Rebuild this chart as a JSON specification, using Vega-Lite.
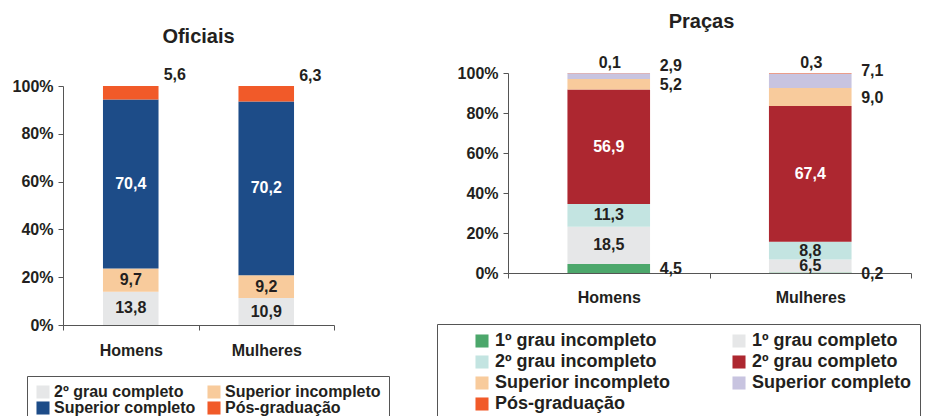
{
  "$schema": "https://vega.github.io/schema/vega-lite/v6.json",
  "background": "white",
  "padding": {"left": 12, "top": 12, "right": 5, "bottom": 0},
  "config": {
    "locale": {"number": {"decimal": ",", "thousands": ".", "grouping": [3], "currency": ["", ""]}},
    "font": "Liberation Sans",
    "view": {"stroke": null},
    "concat": {"spacing": 174},
    "axis": {"labelFont": "Liberation Sans", "labelFontWeight": "bold", "labelFontSize": 16, "labelColor": "#231f20", "domainColor": "#555555", "tickColor": "#555555", "grid": false, "title": null, "tickSize": 5, "labelOverlap": false, "domain": true},
    "title": {"font": "Liberation Sans", "fontSize": 20, "fontWeight": "bold", "color": "#231f20", "frame": "group", "anchor": "middle"},
    "legend": {"labelFont": "Liberation Sans", "labelFontWeight": "bold", "labelColor": "#231f20", "labelLimit": 400, "symbolType": "square", "symbolSize": 170, "symbolStrokeWidth": 0, "strokeColor": "#555555"},
    "text": {"font": "Liberation Sans", "fontWeight": "bold", "fontSize": 16}
  },
  "datasets": {
    "oficiais": [
      {"sexo": "Homens", "nivel": "2º grau completo", "ordem": 4, "valor": 13.8},
      {"sexo": "Homens", "nivel": "Superior incompleto", "ordem": 5, "valor": 9.7},
      {"sexo": "Homens", "nivel": "Superior completo", "ordem": 6, "valor": 70.4},
      {"sexo": "Homens", "nivel": "Pós-graduação", "ordem": 7, "valor": 5.6},
      {"sexo": "Mulheres", "nivel": "2º grau completo", "ordem": 4, "valor": 10.9},
      {"sexo": "Mulheres", "nivel": "Superior incompleto", "ordem": 5, "valor": 9.2},
      {"sexo": "Mulheres", "nivel": "Superior completo", "ordem": 6, "valor": 70.2},
      {"sexo": "Mulheres", "nivel": "Pós-graduação", "ordem": 7, "valor": 6.3}
    ],
    "pracas": [
      {"sexo": "Homens", "nivel": "1º grau incompleto", "ordem": 1, "valor": 4.5},
      {"sexo": "Homens", "nivel": "1º grau completo", "ordem": 2, "valor": 18.5},
      {"sexo": "Homens", "nivel": "2º grau incompleto", "ordem": 3, "valor": 11.3},
      {"sexo": "Homens", "nivel": "2º grau completo", "ordem": 4, "valor": 56.9},
      {"sexo": "Homens", "nivel": "Superior incompleto", "ordem": 5, "valor": 5.2},
      {"sexo": "Homens", "nivel": "Superior completo", "ordem": 6, "valor": 2.9},
      {"sexo": "Homens", "nivel": "Pós-graduação", "ordem": 7, "valor": 0.1},
      {"sexo": "Mulheres", "nivel": "1º grau incompleto", "ordem": 1, "valor": 0.2},
      {"sexo": "Mulheres", "nivel": "1º grau completo", "ordem": 2, "valor": 6.5},
      {"sexo": "Mulheres", "nivel": "2º grau incompleto", "ordem": 3, "valor": 8.8},
      {"sexo": "Mulheres", "nivel": "2º grau completo", "ordem": 4, "valor": 67.4},
      {"sexo": "Mulheres", "nivel": "Superior incompleto", "ordem": 5, "valor": 9.0},
      {"sexo": "Mulheres", "nivel": "Superior completo", "ordem": 6, "valor": 7.1},
      {"sexo": "Mulheres", "nivel": "Pós-graduação", "ordem": 7, "valor": 0.3}
    ]
  },
  "bounds": "flush",
  "resolve": {"scale": {"color": "independent", "x": "independent", "y": "independent"}, "legend": {"color": "independent"}},
  "hconcat": [
    {
      "title": {"text": "Oficiais", "offset": 20},
      "width": 271,
      "height": 252,
      "data": {"name": "oficiais"},
      "encoding": {
        "x": {"field": "sexo", "type": "nominal", "sort": ["Homens", "Mulheres"], "scale": {"paddingInner": 0, "paddingOuter": 0}, "axis": {"labelAngle": 0, "tickBand": "extent", "labelPadding": 12}},
        "order": {"field": "ordem", "type": "quantitative"}
      },
      "layer": [
        {
          "mark": {"type": "bar", "width": {"band": 0.41}},
          "encoding": {
            "y": {"field": "valor", "type": "quantitative", "stack": "normalize", "scale": {"range": [252, 13]}, "axis": {"format": ".0%", "values": [0, 0.2, 0.4, 0.6, 0.8, 1], "labelPadding": 5}},
            "color": {"field": "nivel", "type": "nominal",
              "scale": {"domain": ["2º grau completo", "Superior incompleto", "Superior completo", "Pós-graduação"], "range": ["#e6e7e8", "#f8cb9c", "#1d4c88", "#f15a29"]},
              "legend": {"orient": "none", "legendX": -36, "legendY": 303, "direction": "horizontal", "columns": 2, "title": null, "labelFontSize": 16, "padding": 8, "columnPadding": 10, "rowPadding": -1, "labelOffset": 3}}
          }
        },
        {
          "mark": {"type": "text"},
          "encoding": {
            "y": {"field": "valor", "type": "quantitative", "stack": "normalize", "bandPosition": 0.5, "axis": {"format": ".0%", "values": [0, 0.2, 0.4, 0.6, 0.8, 1], "labelPadding": 5}},
            "detail": {"field": "nivel"},
            "text": {"condition": {"test": {"field": "nivel", "oneOf": ["2º grau completo", "Superior incompleto", "Superior completo"]}, "field": "valor", "type": "quantitative", "format": ".1f"}, "value": ""},
            "color": {"condition": {"test": {"field": "nivel", "equal": "Superior completo"}, "value": "white"}, "value": "#231f20"}
          }
        },
        {
          "mark": {"type": "text", "dx": 44, "dy": -18, "color": "#231f20"},
          "encoding": {
            "y": {"field": "valor", "type": "quantitative", "stack": "normalize", "bandPosition": 0.5, "axis": {"format": ".0%", "values": [0, 0.2, 0.4, 0.6, 0.8, 1], "labelPadding": 5}},
            "detail": {"field": "nivel"},
            "text": {"condition": {"test": {"field": "nivel", "equal": "Pós-graduação"}, "field": "valor", "type": "quantitative", "format": ".1f"}, "value": ""}
          }
        }
      ]
    },
    {
      "title": {"text": "Praças", "offset": 23, "dx": -8},
      "width": 403,
      "height": 200,
      "data": {"name": "pracas"},
      "encoding": {
        "x": {"field": "sexo", "type": "nominal", "sort": ["Homens", "Mulheres"], "scale": {"paddingInner": 0, "paddingOuter": 0}, "axis": {"labelAngle": 0, "tickBand": "extent", "labelPadding": 11}},
        "order": {"field": "ordem", "type": "quantitative"}
      },
      "layer": [
        {
          "mark": {"type": "bar", "width": {"band": 0.41}},
          "encoding": {
            "y": {"field": "valor", "type": "quantitative", "stack": "normalize", "scale": {"range": [200, 0]}, "axis": {"format": ".0%", "values": [0, 0.2, 0.4, 0.6, 0.8, 1], "labelPadding": 5}},
            "color": {"field": "nivel", "type": "nominal",
              "scale": {"domain": ["1º grau incompleto", "1º grau completo", "2º grau incompleto", "2º grau completo", "Superior incompleto", "Superior completo", "Pós-graduação"], "range": ["#4ca76b", "#e6e7e8", "#c3e4e1", "#ad2730", "#f8cb9c", "#c8c4e0", "#f15a29"]},
              "legend": {"orient": "none", "legendX": -71, "legendY": 251, "direction": "horizontal", "columns": 2, "title": " ", "titleOrient": "left", "titleFontSize": 1, "titlePadding": 28, "labelFontSize": 18, "padding": 8, "columnPadding": 59, "rowPadding": 3, "labelOffset": 4}}
          }
        },
        {
          "mark": {"type": "text"},
          "encoding": {
            "y": {"field": "valor", "type": "quantitative", "stack": "normalize", "bandPosition": 0.5, "axis": {"format": ".0%", "values": [0, 0.2, 0.4, 0.6, 0.8, 1], "labelPadding": 5}},
            "detail": {"field": "nivel"},
            "text": {"condition": {"test": {"field": "nivel", "oneOf": ["1º grau completo", "2º grau incompleto", "2º grau completo"]}, "field": "valor", "type": "quantitative", "format": ".1f"}, "value": ""},
            "color": {"condition": {"test": {"field": "nivel", "equal": "2º grau completo"}, "value": "white"}, "value": "#231f20"}
          }
        },
        {
          "mark": {"type": "text", "dx": 62, "dy": 1, "color": "#231f20"},
          "encoding": {
            "y": {"field": "valor", "type": "quantitative", "stack": "normalize", "bandPosition": 0.5, "axis": {"format": ".0%", "values": [0, 0.2, 0.4, 0.6, 0.8, 1], "labelPadding": 5}},
            "detail": {"field": "nivel"},
            "text": {"condition": {"test": {"field": "nivel", "oneOf": ["1º grau incompleto", "Superior incompleto"]}, "field": "valor", "type": "quantitative", "format": ".1f"}, "value": ""}
          }
        },
        {
          "mark": {"type": "text", "dx": 62, "dy": -10, "color": "#231f20"},
          "encoding": {
            "y": {"field": "valor", "type": "quantitative", "stack": "normalize", "bandPosition": 0.5, "axis": {"format": ".0%", "values": [0, 0.2, 0.4, 0.6, 0.8, 1], "labelPadding": 5}},
            "detail": {"field": "nivel"},
            "text": {"condition": {"test": {"field": "nivel", "equal": "Superior completo"}, "field": "valor", "type": "quantitative", "format": ".1f"}, "value": ""}
          }
        },
        {
          "mark": {"type": "text", "dx": 1, "dy": -10, "color": "#231f20"},
          "encoding": {
            "y": {"field": "valor", "type": "quantitative", "stack": "normalize", "bandPosition": 0.5, "axis": {"format": ".0%", "values": [0, 0.2, 0.4, 0.6, 0.8, 1], "labelPadding": 5}},
            "detail": {"field": "nivel"},
            "text": {"condition": {"test": {"field": "nivel", "equal": "Pós-graduação"}, "field": "valor", "type": "quantitative", "format": ".1f"}, "value": ""}
          }
        }
      ]
    }
  ]
}
